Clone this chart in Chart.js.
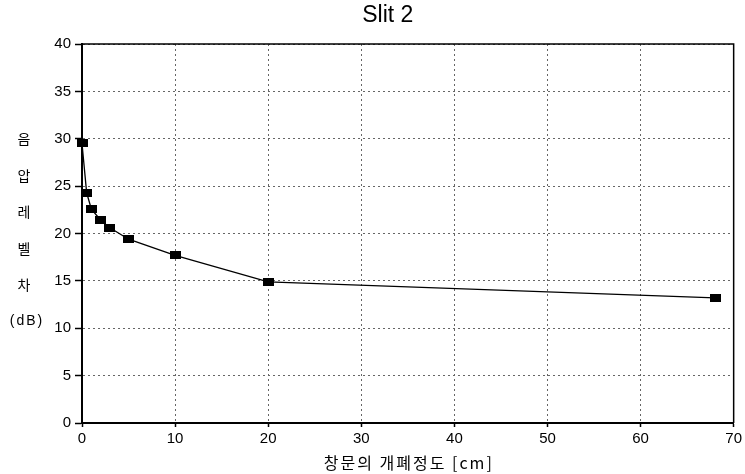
<!DOCTYPE html>
<html>
<head>
<meta charset="utf-8">
<script src="https://cdn.jsdelivr.net/npm/chart.js@4.4.1/dist/chart.umd.min.js"></script>
<style>
  html, body { margin: 0; padding: 0; background: #ffffff; }
  #wrap { width: 745px; height: 474px; }
</style>
</head>
<body>
<div id="wrap"><canvas id="c" width="745" height="474"></canvas></div>
<script>
// ---- data ----
const chartTitle = "Slit 2";
const xTitle = "창문의 개폐정도 [cm]";
const yTitleChars = ["음", "압", "레", "벨", "차", "(dB)"];
const openingCm = [0, 0.5, 1, 2, 3, 5, 10, 20, 68];
const levelDiffDb = [29.5, 24.3, 22.6, 21.4, 20.6, 19.4, 17.7, 14.9, 13.2];
const xTicks = [0, 10, 20, 30, 40, 50, 60, 70];
const yTicks = [0, 5, 10, 15, 20, 25, 30, 35, 40];

const FONT = "'Liberation Sans', Arial, Helvetica, sans-serif";
const KFONT = "'Noto Sans CJK KR', 'Noto Sans', sans-serif";

// marker: small black rectangle
const marker = document.createElement('canvas');
marker.width = 11; marker.height = 8;
(function () { const m = marker.getContext('2d'); m.fillStyle = '#000'; m.fillRect(0, 0, 11, 8); })();

const framePlugin = {
  id: 'frame',
  beforeDatasetsDraw(chart) {
    const { ctx, chartArea: a } = chart;
    ctx.save();
    ctx.strokeStyle = '#000';
    ctx.lineWidth = 1.5;
    ctx.beginPath();
    ctx.moveTo(a.left, a.top); ctx.lineTo(a.right, a.top); ctx.lineTo(a.right, a.bottom);
    ctx.stroke();
    ctx.restore();
  }
};

const textPlugin = {
  id: 'texts',
  afterDraw(chart) {
    const { ctx, chartArea: a } = chart;
    ctx.save();
    ctx.fillStyle = '#000';
    ctx.textAlign = 'center';
    ctx.textBaseline = 'middle';
    // main title
    ctx.font = "23px " + FONT;
    ctx.fillText(chartTitle, (a.left + a.right) / 2 - 20, 16);
    // x-axis title
    ctx.font = "16px " + KFONT;
    ctx.letterSpacing = "2px";
    ctx.fillText(xTitle, (a.left + a.right) / 2 + 1, 463);
    // y-axis title, stacked
    const startY = a.top + 95;
    const step = 36.5;
    yTitleChars.forEach((t, i) => {
      const last = i === yTitleChars.length - 1;
      ctx.font = last ? "14px " + FONT : "14px " + KFONT;
      ctx.letterSpacing = last ? "2px" : "0px";
      ctx.fillText(t, last ? 27 : 24, startY + i * step);
    });
    ctx.restore();
  }
};

new Chart(document.getElementById('c'), {
  type: 'scatter',
  data: {
    datasets: [{
      data: openingCm.map((x, i) => ({ x, y: levelDiffDb[i] })),
      showLine: true,
      clip: false,
      borderColor: '#000',
      borderWidth: 1.3,
      backgroundColor: '#000',
      pointStyle: marker,
      pointRadius: 5,
      pointHoverRadius: 5,
      tension: 0
    }]
  },
  options: {
    responsive: false,
    animation: false,
    events: [],
    layout: { padding: { left: 0, right: 10, top: 44, bottom: 0 } },
    plugins: {
      legend: { display: false },
      tooltip: { enabled: false },
      title: { display: false }
    },
    scales: {
      x: {
        type: 'linear',
        min: 0, max: 70,
        afterBuildTicks(s) { s.ticks = xTicks.map(v => ({ value: v })); },
        afterFit(s) { s.height = 51; },
        ticks: { color: '#000', font: { family: FONT, size: 15 }, padding: 3, maxRotation: 0 },
        grid: { color: '#666', lineWidth: 1, tickLength: 4, tickColor: '#000', tickWidth: 1.5 },
        border: { color: '#000', width: 2, dash: [2, 3] }
      },
      y: {
        type: 'linear',
        min: 0, max: 40,
        afterBuildTicks(s) { s.ticks = yTicks.map(v => ({ value: v })); },
        afterFit(s) { s.width = 82; },
        ticks: { color: '#000', font: { family: FONT, size: 15 }, padding: 4 },
        grid: { color: '#666', lineWidth: 1, tickLength: 7, tickColor: '#000', tickWidth: 1.5 },
        border: { color: '#000', width: 2, dash: [2, 3] }
      }
    }
  },
  plugins: [framePlugin, textPlugin]
});
</script>
</body>
</html>
